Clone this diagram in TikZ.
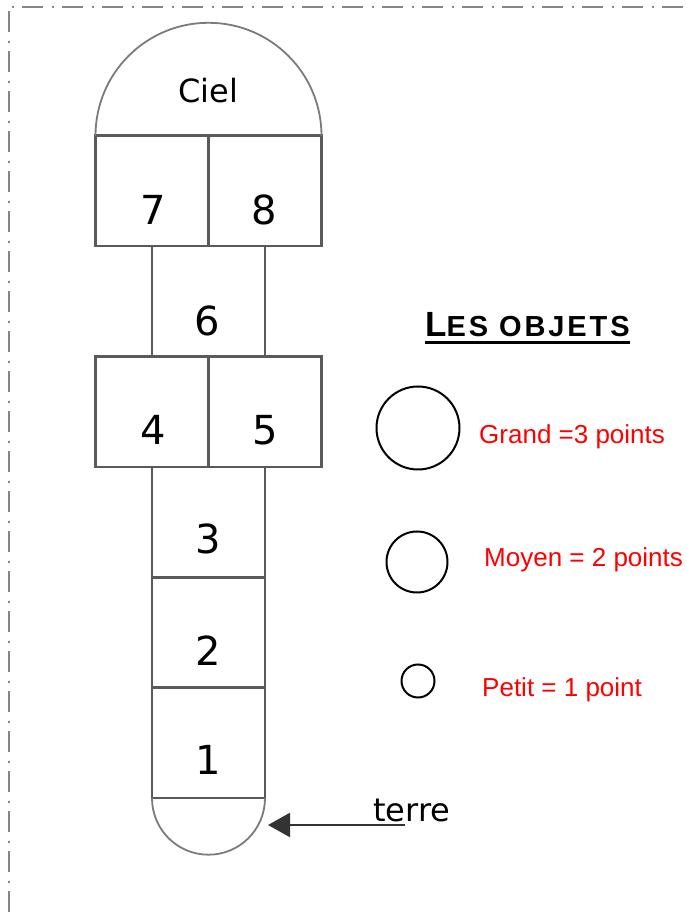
\documentclass[tikz,border=0pt]{standalone}
\usepackage{fontspec}
\setmainfont{Liberation Sans}
\newfontfamily\handfont{DejaVu Sans}
\usetikzlibrary{arrows.meta,positioning}
\definecolor{chalkgray}{HTML}{5A5A5A}
\definecolor{framegray}{HTML}{858585}
\definecolor{pointred}{HTML}{FF0000}
\tikzset{
  cell/.style={draw=chalkgray,line width=2.6pt,minimum width=113pt,minimum height=110.4pt,inner sep=0pt,outer sep=0pt},
  digit/.style={font=\handfont\fontsize{40}{40}\selectfont,inner sep=0pt},
  roundend/.style={draw=chalkgray!80,line width=1.8pt},
  token/.style={draw=black,circle,line width=2pt,inner sep=0pt},
  score/.style={text=pointred,anchor=base west,inner sep=0pt,font=\fontsize{26}{26}\selectfont},
  pointer/.style={-{Triangle[length=22pt,width=24pt]},line width=2.4pt,draw=black!80},
  frame/.style={draw=framegray,line width=2.2pt,dash pattern=on 21pt off 9pt on 2pt off 8pt},
}

\begin{document}
\begin{tikzpicture}[x=1pt,y=1pt]
  \useasboundingbox (0,0) rectangle (687,915);
  \draw[frame,dash phase=27pt] (9,908) -- (687,908);
  \draw[frame,dash phase=36pt] (9,908) -- (9,0);
  % la marelle
  \node[cell] (c1) at (208.5,172) {};
  \node[cell,above=0pt of c1] (c2) {};
  \node[cell,above=0pt of c2] (c3) {};
  \node[cell,anchor=south east] (c4) at (c3.north) {};
  \node[cell,anchor=south west] (c5) at (c3.north) {};
  \node[cell,anchor=south] (c6) at (c4.north east) {};
  \node[cell,anchor=south east] (c7) at (c6.north) {};
  \node[cell,anchor=south west] (c8) at (c6.north) {};
  \draw[roundend] (c7.north west) arc[start angle=180,end angle=0,radius=113pt];
  \draw[roundend] (c1.south west) arc[start angle=180,end angle=360,radius=56.5pt];
  \node[font=\handfont\fontsize{32}{32}\selectfont] (sky) at ([yshift=45pt]c7.north east) {Ciel};
  \node[digit] (n1) at ([yshift=-17pt]c1.center) {1};
  \node[digit] (n2) at ([yshift=-18pt]c2.center) {2};
  \node[digit] (n3) at ([yshift=-17pt]c3.center) {3};
  \node[digit] (n4) at ([xshift=1pt,yshift=-18pt]c4.center) {4};
  \node[digit] (n5) at ([yshift=-18pt]c5.center) {5};
  \node[digit] (n6) at ([xshift=-1pt,yshift=-20pt]c6.center) {6};
  \node[digit] (n7) at ([xshift=1pt,yshift=-19pt]c7.center) {7};
  \node[digit] (n8) at ([xshift=-1pt,yshift=-19pt]c8.center) {8};
  % terre
  \node[font=\handfont\fontsize{32}{32}\selectfont,anchor=base west,inner sep=0pt] (terre) at (373,93) {terre};
  \coordinate (tail) at ([xshift=32pt,yshift=-3pt]terre.base west);
  \coordinate (earth) at (268,90);
  \draw[pointer] (tail) -- (earth);
  % les objets
  \node[inner sep=0pt,anchor=base west,font=\bfseries\addfontfeature{LetterSpace=10}] (title) at (425,578)
    {\fontsize{35}{35}\selectfont L\fontsize{29}{29}\selectfont ES OBJETS};
  \draw[line width=3pt] ([yshift=-6pt]title.base west) -- ([yshift=-6pt]title.base east);
  \node[token,minimum size=83pt] (big) at (418,487) {};
  \node[token,minimum size=61pt] (medium) at (417,353) {};
  \node[token,minimum size=33pt] (small) at (418,234) {};
  \node[score] (grand) at (479,471) {Grand =3 points};
  \node[score] (moyen) at (484,348) {Moyen = 2 points};
  \node[score] (petit) at (482,218) {Petit = 1 point};
\end{tikzpicture}
\end{document}
